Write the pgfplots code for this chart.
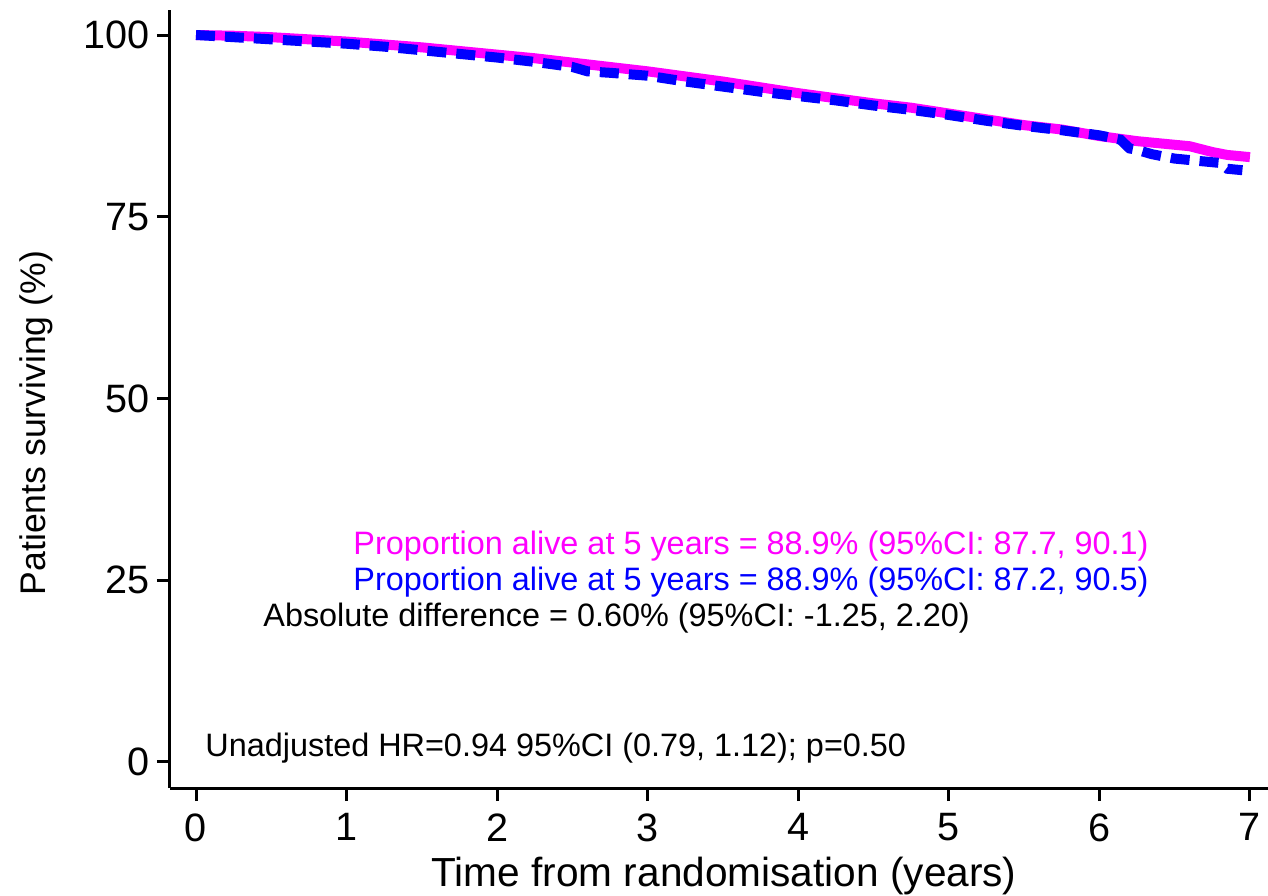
\documentclass[border=0pt]{standalone}
\usepackage{pgfplots}
\pgfplotsset{compat=1.18}
\usepackage{fontspec}
\setmainfont{Liberation Sans}
\definecolor{kmmag}{RGB}{255,0,255}
\definecolor{kmblue}{RGB}{0,0,255}
\begin{document}
\begin{tikzpicture}
\begin{axis}[
  scale only axis,
  width=549bp, height=389bp,
  xmin=-0.1727, xmax=7.12,
  ymin=-3.58, ymax=103.44,
  axis lines=left,
  axis line style={-, line width=1.5bp, black},
  xtick={0,1,2,3,4,5,6,7},
  ytick={0,25,50,75,100},
  tick align=outside,
  major tick length=6.5bp,
  tick style={line width=1.5bp, black},
  /pgf/number format/assume math mode=true,
  ticklabel style={font=\fontsize{19.8bp}{22bp}\selectfont},
  yticklabel style={anchor=east, inner sep=0pt, xshift=-3.5bp},
  xticklabel style={anchor=north, inner sep=0pt, yshift=-6bp},
  xlabel={Time from randomisation (years)},
  ylabel={Patients surviving (\%)},
  xlabel style={font=\fontsize{20.3bp}{24bp}\selectfont, at={(axis description cs:0.5046,-0.126)}, anchor=base, inner sep=0pt},
  ylabel style={font=\fontsize{17.8bp}{21bp}\selectfont, at={(axis description cs:-0.1138,0.469)}, anchor=base, inner sep=0pt},
  clip=false,
]
\addplot[kmmag, line width=5bp, line join=round] coordinates {
(0,100) (0.25,99.9) (0.5,99.7) (0.75,99.4) (1.0,99.1) (1.25,98.7) (1.5,98.3)
(1.75,97.8) (2.0,97.3) (2.25,96.8) (2.5,96.2) (2.75,95.6) (3.0,95.0)
(3.25,94.3) (3.5,93.6) (3.75,92.8) (4.0,92.0) (4.25,91.3) (4.5,90.6)
(4.75,90.0) (5.0,89.2) (5.25,88.4) (5.5,87.6) (5.75,87.0) (6.0,86.1)
(6.25,85.4) (6.5,84.9) (6.6,84.7) (6.75,83.9) (6.85,83.5) (7.0,83.2)
};
\addplot[kmblue, line width=5bp, dash pattern=on 9.5bp off 5bp] coordinates {
(0,100) (0.25,99.7) (0.5,99.4) (0.75,99.1) (1.0,98.8) (1.25,98.4) (1.5,97.9)
(1.75,97.4) (2.0,96.9) (2.25,96.3) (2.5,95.6) (2.6,95.0) (2.75,94.8)
(3.0,94.4) (3.25,93.6) (3.5,92.9) (3.75,92.2) (4.0,91.6) (4.25,91.0)
(4.5,90.3) (4.75,89.7) (5.0,89.0) (5.25,88.2) (5.5,87.5) (5.75,86.9)
(6.0,86.2) (6.14,85.6) (6.2,84.4) (6.25,84.2) (6.35,83.6) (6.5,83.0)
(6.7,82.6) (6.8,82.4) (6.85,81.6) (6.95,81.4)
};
\node[anchor=west, inner sep=0pt, text=kmmag, font=\fontsize{16.2bp}{19bp}\selectfont] at (axis cs:1.043,29.7) {Proportion alive at 5 years = 88.9\% (95\%CI: 87.7, 90.1)};
\node[anchor=west, inner sep=0pt, text=kmblue, font=\fontsize{16.2bp}{19bp}\selectfont] at (axis cs:1.043,24.8) {Proportion alive at 5 years = 88.9\% (95\%CI: 87.2, 90.5)};
\node[anchor=west, inner sep=0pt, text=black, font=\fontsize{16.2bp}{19bp}\selectfont] at (axis cs:0.445,19.8) {Absolute difference = 0.60\% (95\%CI: -1.25, 2.20)};
\node[anchor=west, inner sep=0pt, text=black, font=\fontsize{16.2bp}{19bp}\selectfont] at (axis cs:0.06,1.9) {Unadjusted HR=0.94 95\%CI (0.79, 1.12); p=0.50};
\coordinate (O) at (rel axis cs:0,0);
\end{axis}
\pgfresetboundingbox
\path (O) ++(-85bp,-54bp) rectangle ++(634bp,448bp);
\end{tikzpicture}
\end{document}
